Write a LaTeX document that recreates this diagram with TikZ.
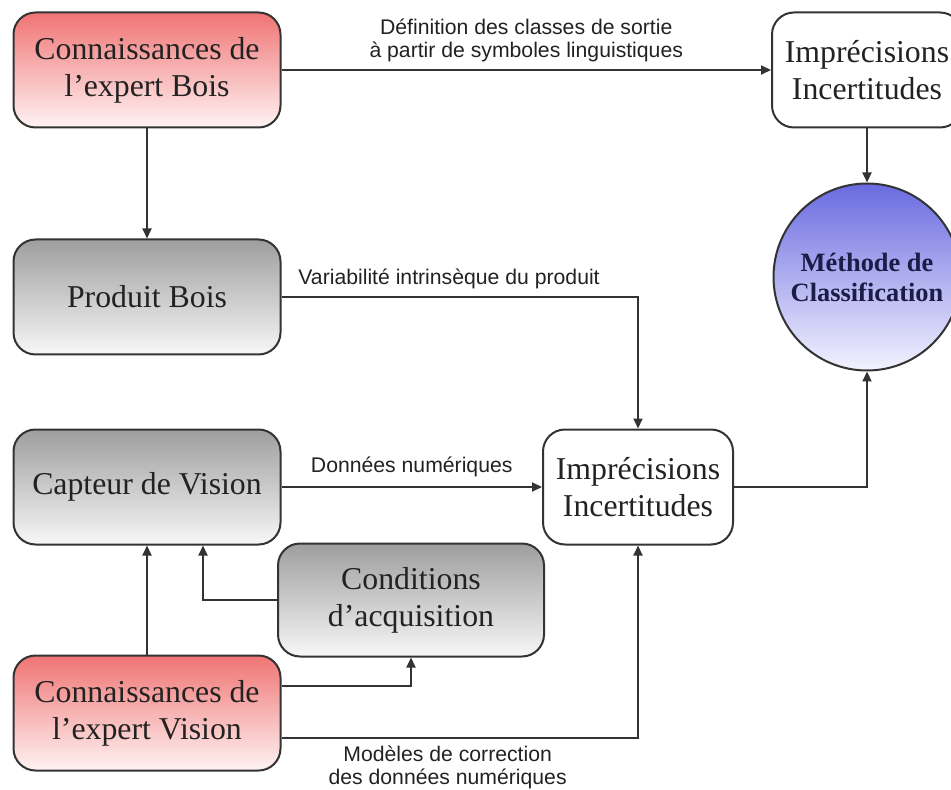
\documentclass[tikz,border=0pt]{standalone}
\usepackage{fontspec}
\setmainfont{Liberation Serif}
\setsansfont{Liberation Sans}
\usetikzlibrary{arrows.meta,positioning,calc}
\definecolor{ink}    {HTML}{222222}
\definecolor{edge}   {HTML}{333333}
\definecolor{rose}   {HTML}{F07474}
\definecolor{roseLt} {HTML}{FFF3F3}
\definecolor{grey}   {HTML}{9E9E9E}
\definecolor{greyLt} {HTML}{F7F7F7}
\definecolor{bleu}   {HTML}{6A6AE0}
\definecolor{bleuLt} {HTML}{F3F3FF}
\definecolor{navy}   {HTML}{1C1C48}

\begin{document}
\begin{tikzpicture}[x=0.5pt, y=-0.5pt,
  bloc/.style={draw=edge, line width=1pt, rounded corners=11pt, align=center,
               minimum width=133.5pt, minimum height=57.5pt, inner sep=0pt,
               text=ink, font=\fontsize{15.9}{18.5}\selectfont},
  expert/.style={bloc, top color=rose, bottom color=roseLt},
  gris/.style={bloc, top color=grey, bottom color=greyLt},
  incert/.style={bloc, fill=white, minimum width=95pt},
  fleche/.style={draw=edge, line width=1pt, -{Triangle[length=5pt,width=4.5pt]}},
  etiq/.style={font=\sffamily\fontsize{10.6}{11.5}\selectfont, text=ink, align=center}]
  \useasboundingbox (0,0) rectangle (951,790);
  \clip (0,0) rectangle (951,790);
  \fill[white] (0,0) rectangle (951,790);
  % blocs de gauche
  \node[expert] (expBois)   at (147,70)  {Connaissances de\\l’expert Bois};
  \node[gris]   (produit)   at (147,297) {Produit Bois};
  \node[gris]   (capteur)   at (147,487) {Capteur de Vision};
  \node[gris, minimum width=133pt, minimum height=56.5pt] (cond) at (411,600) {Conditions\\d’acquisition};
  \node[expert] (expVision) at (147,713) {Connaissances de\\l’expert Vision};
  % imprecisions et methode
  \node[incert] (imprB) at (638,487) {Imprécisions\\Incertitudes};
  \node[incert] (imprH) at (867,70)  {Imprécisions\\Incertitudes};
  \node[circle, draw=edge, line width=1pt, top color=bleu, bottom color=bleuLt,
        minimum size=93.5pt, inner sep=0pt, align=center, text=navy,
        font=\bfseries\fontsize{13.2}{15}\selectfont] (methode) at (867,277) {Méthode de\\Classification};
  % liaisons
  \draw[fleche] (expBois) -- node[etiq, above=0pt] {Définition des classes de sortie\\à partir de symboles linguistiques} (imprH);
  \draw[fleche] (expBois) -- (produit);
  \draw[fleche] (imprH) -- (methode);
  \draw[fleche] (produit) -| node[etiq, above, pos=0.235] {Variabilité intrinsèque du produit} (imprB);
  \draw[fleche] (capteur) -- node[etiq, above=1pt] {Données numériques} (imprB);
  \draw[fleche] (imprB) -| (methode);
  \draw[fleche] (cond.west) -| ([xshift=28pt]capteur.south);
  \draw[fleche] (expVision) -- (capteur);
  \draw[fleche] ([yshift=13.5pt]expVision.east) -| (cond);
  \draw[fleche] ([yshift=-12.5pt]expVision.east) -| node[etiq, below, pos=0.233] {Modèles de correction\\des données numériques} (imprB);
\end{tikzpicture}
\end{document}
